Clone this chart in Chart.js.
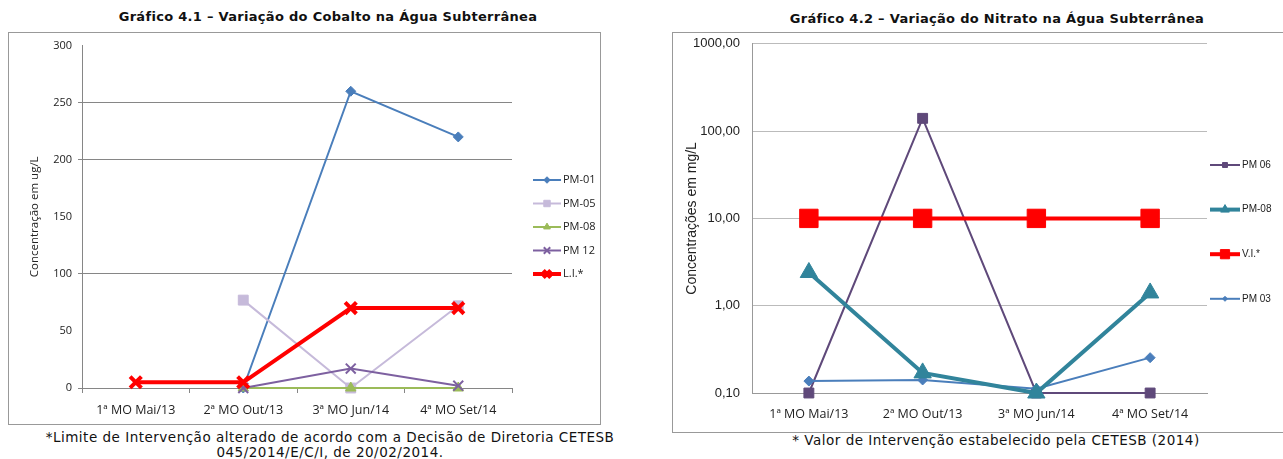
<!DOCTYPE html>
<html>
<head>
<meta charset="utf-8">
<script src="https://cdn.jsdelivr.net/npm/chart.js@4.4.1/dist/chart.umd.min.js"></script>
<style>
  body { margin: 0; background: #fff; width: 1283px; height: 459px; position: relative; overflow: hidden; }
  .title { position: absolute; font-family: "DejaVu Sans", sans-serif; font-weight: bold; font-size: 13px; letter-spacing: 0.3px; color: #111; text-align: center; white-space: nowrap; }
  .note { position: absolute; font-family: "DejaVu Sans", sans-serif; font-size: 13.5px; letter-spacing: 0.5px; color: #111; text-align: center; white-space: nowrap; line-height: 15px; }
  .box { position: absolute; border: 1px solid #999; background: #fff; }
  canvas { display: block; }
</style>
</head>
<body>
<div class="title" style="left:28px; width:600px; top:9px;">Gráfico 4.1 – Variação do Cobalto na Água Subterrânea</div>
<div class="box" style="left:8px; top:32px; width:591px; height:391px;"><canvas id="cobalto" width="591" height="391"></canvas></div>
<div class="note" style="left:30px; width:600px; top:430px;">*Limite de Intervenção alterado de acordo com a Decisão de Diretoria CETESB<br>045/2014/E/C/I, de 20/02/2014.</div>

<div class="title" style="left:697px; width:600px; top:11px;">Gráfico 4.2 – Variação do Nitrato na Água Subterrânea</div>
<div class="box" style="left:672px; top:32px; width:620px; height:399px;"><canvas id="nitrato" width="610" height="408" style="margin-top:-9px;"></canvas></div>
<div class="note" style="left:696px; width:600px; top:433px;">* Valor de Intervenção estabelecido pela CETESB (2014)</div>

<script>
// Gráfico 4.1 - Cobalto (ug/L)
var campanhas = ['1ª MO Mai/13', '2ª MO Out/13', '3ª MO Jun/14', '4ª MO Set/14'];
var pm01 = [null, 0, 260, 220];
var pm05 = [null, 77, 0, 72];
var pm08 = [null, 0, 0, 0];
var pm12 = [null, 0, 17, 2];
var limiteLI = [5, 5, 70, 70];
var cobaltoTicks = [0, 50, 100, 150, 200, 250, 300];

// Gráfico 4.2 - Nitrato (mg/L)
var campanhasN = ['1ª MO Mai/13', '2ª MO Out/13', '3ª MO Jun/14', '4ª MO Set/14'];
var pm06n = [0.1, 140, 0.1, 0.1];
var pm08n = [2.4, 0.17, 0.1, 1.4];
var valorVI = [10, 10, 10, 10];
var pm03n = [0.137, 0.141, 0.112, 0.254];
var nitratoTicks = [0.1, 1, 10, 100, 1000];

var labelFont = { family: 'Open Sans', size: 11 };
var catFont = { family: 'Open Sans', size: 12.5 };

// legend drawn at the side, excel style (line + marker)
var sideLegend = {
  id: 'sideLegend',
  afterDraw: function(chart, args, opts) {
    var ctx = chart.ctx;
    chart.data.datasets.forEach(function(ds, i) {
      var y = opts.y + i * opts.dy;
      ctx.save();
      ctx.strokeStyle = ds.borderColor;
      ctx.lineWidth = ds.borderWidth;
      ctx.beginPath();
      ctx.moveTo(opts.x, y);
      ctx.lineTo(opts.x + opts.len, y);
      ctx.stroke();
      ctx.fillStyle = ds.pointBackgroundColor;
      ctx.strokeStyle = ds.pointBorderColor;
      ctx.lineWidth = ds.pointBorderWidth;
      Chart.helpers.drawPoint(ctx, {
        pointStyle: ds.pointStyle,
        radius: ds.pointRadius * opts.scale,
        rotation: 0,
        borderWidth: ds.pointBorderWidth
      }, opts.x + opts.len / 2, y);
      ctx.fillStyle = '#222';
      ctx.font = opts.font;
      ctx.textBaseline = 'middle';
      ctx.fillText(ds.label, opts.x + opts.len + 2, y);
      ctx.restore();
    });
  }
};

function serie(label, data, color, width, style, radius, order) {
  return {
    label: label,
    data: data,
    borderColor: color,
    backgroundColor: color,
    borderWidth: width,
    pointStyle: style,
    pointRadius: radius,
    pointHoverRadius: radius,
    pointBackgroundColor: color,
    pointBorderColor: color,
    pointBorderWidth: style === 'crossRot' ? width : 1,
    tension: 0,
    order: order,
    clip: false
  };
}

var ctx1 = document.getElementById('cobalto').getContext('2d');
var cobaltoChart = new Chart(ctx1, {
  type: 'line',
  data: {
    labels: campanhas,
    datasets: [
      serie('PM-01', pm01, '#4A7EBB', 2, 'rectRot', 5, 5),
      serie('PM-05', pm05, '#C6BADA', 2, 'rect', 7, 4),
      serie('PM-08', pm08, '#9BBB59', 2, 'triangle', 6, 3),
      serie('PM 12', pm12, '#7D60A0', 2, 'crossRot', 7, 2),
      serie('L.I.*', limiteLI, '#FF0000', 4, 'crossRot', 8, 1)
    ]
  },
  options: {
    responsive: false,
    animation: false,
    layout: { padding: { top: 12, right: 88, left: 0, bottom: 0 } },
    plugins: {
      legend: { display: false },
      tooltip: { enabled: false },
      sideLegend: { x: 524, y: 147, dy: 23.5, len: 28, scale: 0.65, font: '11px "Open Sans"' }
    },
    scales: {
      x: {
        offset: true,
        grid: { offset: true, drawOnChartArea: false, color: '#868686', tickLength: 5 },
        border: { color: '#868686' },
        ticks: { color: '#222', font: catFont, padding: 10, maxRotation: 0 },
        afterFit: function(scale) { scale.height = 36; }
      },
      y: {
        min: 0,
        max: 300,
        afterBuildTicks: function(scale) {
          scale.ticks = cobaltoTicks.map(function(v) { return { value: v }; });
        },
        grid: {
          color: function(c) {
            var v = c.tick ? c.tick.value : null;
            return (v === 100 || v === 200 || v === 250 || v === 0) ? '#868686' : 'rgba(0,0,0,0)';
          },
          tickLength: 4
        },
        border: { color: '#868686' },
        ticks: { color: '#222', font: labelFont, padding: 6 },
        title: {
          display: true,
          text: 'Concentração em ug/L',
          color: '#222',
          font: { family: 'Open Sans', size: 11.5 },
          padding: { top: 19, bottom: 0 }
        },
        afterFit: function(scale) { scale.width = 73; }
      }
    }
  },
  plugins: [sideLegend]
});

var ctx2 = document.getElementById('nitrato').getContext('2d');
var nitratoChart = new Chart(ctx2, {
  type: 'line',
  data: {
    labels: campanhasN,
    datasets: [
      serie('PM 06', pm06n, '#5F497A', 2, 'rect', 7, 4),
      serie('PM-08', pm08n, '#31849B', 4, 'triangle', 10, 2),
      serie('V.I.*', valorVI, '#FF0000', 4, 'rect', 13, 1),
      serie('PM 03', pm03n, '#4A7EBB', 2, 'rectRot', 5, 3)
    ]
  },
  options: {
    responsive: false,
    animation: false,
    layout: { padding: { top: 1, right: 76, left: 0, bottom: 0 } },
    plugins: {
      legend: { display: false },
      tooltip: { enabled: false },
      sideLegend: { x: 537, y: 141, dy: 44.6, len: 30, scale: 0.5, font: '10px "Liberation Sans"' }
    },
    scales: {
      x: {
        offset: true,
        grid: { display: false },
        border: { color: '#999' },
        ticks: { color: '#222', font: catFont, padding: 6, maxRotation: 0 },
        afterFit: function(scale) { scale.height = 39; }
      },
      y: {
        type: 'logarithmic',
        min: 0.1,
        max: 1000,
        afterBuildTicks: function(scale) {
          scale.ticks = nitratoTicks.map(function(v) { return { value: v }; });
        },
        grid: { color: '#BBBBBB', drawTicks: false },
        border: { color: '#999' },
        ticks: {
          color: '#222',
          font: { family: 'Liberation Sans', size: 13 },
          padding: 12,
          callback: function(v) { return Number(v).toFixed(2).replace('.', ','); }
        },
        title: {
          display: true,
          text: 'Concentrações em mg/L',
          color: '#222',
          font: { family: 'Liberation Sans', size: 14 },
          padding: { top: 11, bottom: 0 }
        },
        afterFit: function(scale) { scale.width = 79; }
      }
    }
  },
  plugins: [sideLegend]
});
</script>
</body>
</html>
